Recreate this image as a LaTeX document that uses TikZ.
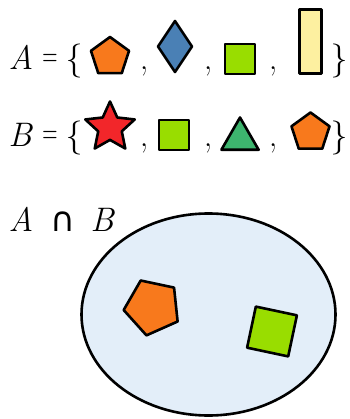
\documentclass[tikz,border=0pt]{standalone}
\usepackage{fontspec}
\usepackage{graphicx}
\newfontfamily\symfont{DejaVu Sans}
\usetikzlibrary{shapes.geometric}
\definecolor{corange}{HTML}{F8791C}
\definecolor{cblue}{HTML}{4A80B5}
\definecolor{clime}{HTML}{99DD00}
\definecolor{cyellow}{HTML}{FDF0A0}
\definecolor{cred}{HTML}{F2262A}
\definecolor{cgreen}{HTML}{3DB56E}
\definecolor{cset}{HTML}{E3EEF9}
\newcommand{\nareq}{\scalebox{0.62}[1]{=}}
\tikzset{
  shp/.style={draw=black, line width=2.6pt, inner sep=0pt, outer sep=0pt, line join=round},
  pent/.style={shp, regular polygon, regular polygon sides=5, fill=corange, minimum size=40pt},
  sq/.style={shp, rectangle, fill=clime, minimum size=30pt},
  txt/.style={inner sep=0pt, anchor=base, font=\fontsize{34}{40}\selectfont},
}
\begin{document}
\begin{tikzpicture}[x=1pt,y=-1pt]
\useasboundingbox (0,0) rectangle (349,419);
% row A
\node[txt] (aA) at (21,70) {\itshape A};
\node[txt] (aeq) at (50,67) {\nareq};
\node[txt] (aob) at (74,70) {\{};
\node[pent] (a1) at (110,57) {};
\node[txt] (ac1) at (144,70) {,};
\node[shp, diamond, fill=cblue, minimum width=34pt, minimum height=51pt] (a2) at (175,46.5) {};
\node[txt] (ac2) at (208,70) {,};
\node[sq] (a3) at (240,59) {};
\node[txt] (ac3) at (273,70) {,};
\node[shp, rectangle, fill=cyellow, minimum width=22pt, minimum height=64pt] (a4) at (310.5,41.5) {};
\node[txt] (acb) at (339,70) {\}};
% row B
\node[txt] (bB) at (20,147) {\itshape B};
\node[txt] (beq) at (50,144) {\nareq};
\node[txt] (bob) at (74,147) {\{};
\node[shp, star, star points=5, star point ratio=2.1, fill=cred, minimum size=52pt] (b1) at (110,127.5) {};
\node[txt] (bc1) at (144,147) {,};
\node[sq] (b2) at (174,135) {};
\node[txt] (bc2) at (208,147) {,};
\node[shp, regular polygon, regular polygon sides=3, fill=cgreen, minimum size=43pt] (b3) at (240,139) {};
\node[txt] (bc3) at (273,147) {,};
\node[pent] (b4) at (310.5,132.5) {};
\node[txt] (bcb) at (339,147) {\}};
% intersection
\node[txt] (labA) at (21,231) {\itshape A};
\node[txt] (labcap) at (63,231) {\symfont ∩};
\node[txt] (labB) at (102,231) {\itshape B};
\node[draw=black, line width=2.6pt, fill=cset, ellipse, minimum width=254pt, minimum height=202pt, inner sep=0pt] (set) at (208.5,314.5) {};
\node[pent, rotate=24, minimum size=58pt] (i1) at (152.5,307) {};
\node[sq, rotate=-12, minimum size=42pt] (i2) at (272,331.5) {};
\end{tikzpicture}
\end{document}
